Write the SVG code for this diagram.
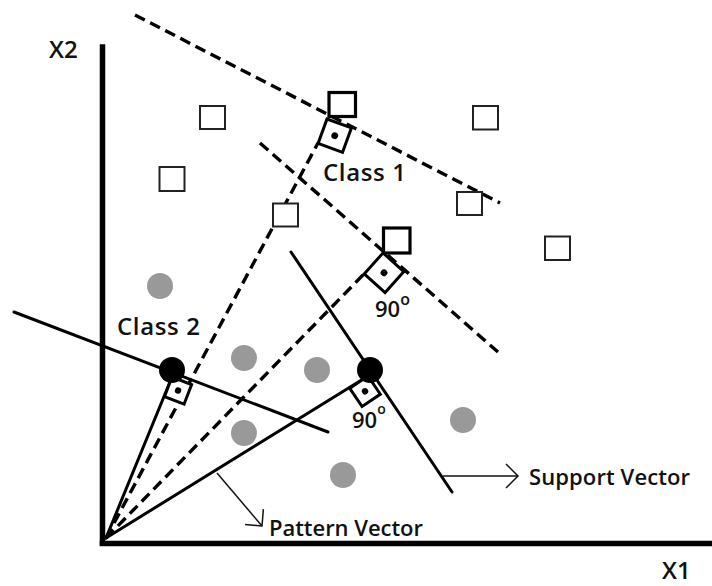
<svg xmlns="http://www.w3.org/2000/svg" width="712" height="586" viewBox="0 0 712 586">
  <style>
    .axis { stroke: #000; stroke-width: 5.5; fill: none; stroke-linecap: square; }
    .solid { stroke: #000; stroke-width: 3; fill: none; stroke-linecap: round; }
    .dash { stroke: #000; stroke-width: 3.4; fill: none; stroke-dasharray: 11 6; }
    .thin { stroke: #111; stroke-width: 1.5; fill: none; }
    .pt1 { fill: #fff; stroke: #222; stroke-width: 2; }
    .sv1 { fill: #fff; stroke: #000; stroke-width: 3.2; }
    .pt2 { fill: #999; }
    .sv2 { fill: #000; }
    .mark { fill: #fff; stroke: #000; stroke-width: 3; }
    .dot { fill: #000; }
    text { font-family: "Open Sans", "Liberation Sans", sans-serif; font-weight: 600; fill: #111; }
    .lbl { font-size: 24px; }
    .ang { font-size: 22px; }
    .note { font-size: 22px; }
  </style>
  <defs>
    <marker id="arr" markerUnits="userSpaceOnUse" markerWidth="20" markerHeight="30" viewBox="-16 -15 20 30" refX="0" refY="0" orient="auto" overflow="visible">
      <path d="M-12,-12 L0,0 L-12,12" fill="none" stroke="#111" stroke-width="1.5"/>
    </marker>
  </defs>

  <g id="axes">
    <line class="axis" x1="102.5" y1="47" x2="102.5" y2="543"/>
    <line class="axis" x1="102.5" y1="543.5" x2="712" y2="543.5"/>
    <text class="lbl" x="49" y="58">X2</text>
    <text class="lbl" x="662" y="579">X1</text>
  </g>

  <g id="connectors">
    <!-- margin hyperplanes (dashed) -->
    <line class="dash" x1="135" y1="15" x2="500" y2="203"/>
    <line class="dash" x1="260" y1="143" x2="498" y2="352"/>
    <!-- dashed pattern vectors -->
    <line class="dash" x1="106" y1="538" x2="318" y2="143"/>
    <line class="dash" x1="106" y1="538" x2="364" y2="274"/>
    <!-- solid lines through class 2 support vectors -->
    <line class="solid" x1="14" y1="312" x2="328" y2="432"/>
    <line class="solid" x1="291" y1="252" x2="452" y2="492"/>
    <!-- solid pattern vectors -->
    <line class="solid" x1="106" y1="538" x2="172" y2="377"/>
    <line class="solid" x1="106" y1="538" x2="368" y2="376"/>
    <!-- annotation arrows -->
    <line class="thin" x1="443" y1="476" x2="518" y2="476" marker-end="url(#arr)"/>
    <line class="thin" x1="217" y1="473" x2="262" y2="526" marker-end="url(#arr)"/>
  </g>

  <g id="class1-points">
    <rect class="pt1" x="200" y="106" width="25" height="23"/>
    <rect class="pt1" x="159.5" y="167" width="25" height="24"/>
    <rect class="pt1" x="273" y="203.5" width="25" height="23"/>
    <rect class="pt1" x="473" y="106" width="25" height="23.5"/>
    <rect class="pt1" x="457" y="192" width="25" height="23"/>
    <rect class="pt1" x="545" y="236.5" width="25" height="23.5"/>
  </g>

  <g id="class1-support">
    <rect class="sv1" x="329" y="92.5" width="26.5" height="24"/>
    <rect class="sv1" x="383.5" y="228" width="26.5" height="25"/>
  </g>

  <g id="class2-points">
    <circle class="pt2" cx="160" cy="286" r="13"/>
    <circle class="pt2" cx="244" cy="358" r="13"/>
    <circle class="pt2" cx="317" cy="370" r="13"/>
    <circle class="pt2" cx="244" cy="433" r="13"/>
    <circle class="pt2" cx="343" cy="475" r="13"/>
    <circle class="pt2" cx="463" cy="420" r="13"/>
  </g>

  <g id="right-angle-markers">
    <g transform="translate(327,119) rotate(20)">
      <rect class="mark" x="0" y="0" width="26" height="26"/>
      <circle class="dot" cx="13" cy="13" r="3.4"/>
    </g>
    <g transform="translate(383,253) rotate(42)">
      <rect class="mark" x="0" y="0" width="28" height="28"/>
      <circle class="dot" cx="14" cy="14" r="3.4"/>
    </g>
    <g transform="translate(172,377) rotate(21)">
      <rect class="mark" x="0" y="0" width="21" height="21"/>
      <circle class="dot" cx="10.5" cy="10.5" r="3.2"/>
    </g>
    <g transform="translate(368,376) rotate(56)">
      <rect class="mark" x="0" y="0" width="22" height="22"/>
      <circle class="dot" cx="11" cy="11" r="3.2"/>
    </g>
  </g>

  <g id="class2-support">
    <circle class="sv2" cx="172" cy="370" r="13"/>
    <circle class="sv2" cx="370" cy="370" r="13"/>
  </g>

  <g id="labels">
    <text class="lbl" x="323" y="181" textLength="83">Class 1</text>
    <text class="lbl" x="117" y="335" textLength="83">Class 2</text>
    <text class="ang" x="375" y="317">90<tspan dy="-12" font-size="16">o</tspan></text>
    <text class="ang" x="352" y="428">90<tspan dy="-14" font-size="14">o</tspan></text>
    <text class="note" x="529" y="485" textLength="161">Support Vector</text>
    <text class="note" x="269" y="536" textLength="154">Pattern Vector</text>
  </g>
</svg>
